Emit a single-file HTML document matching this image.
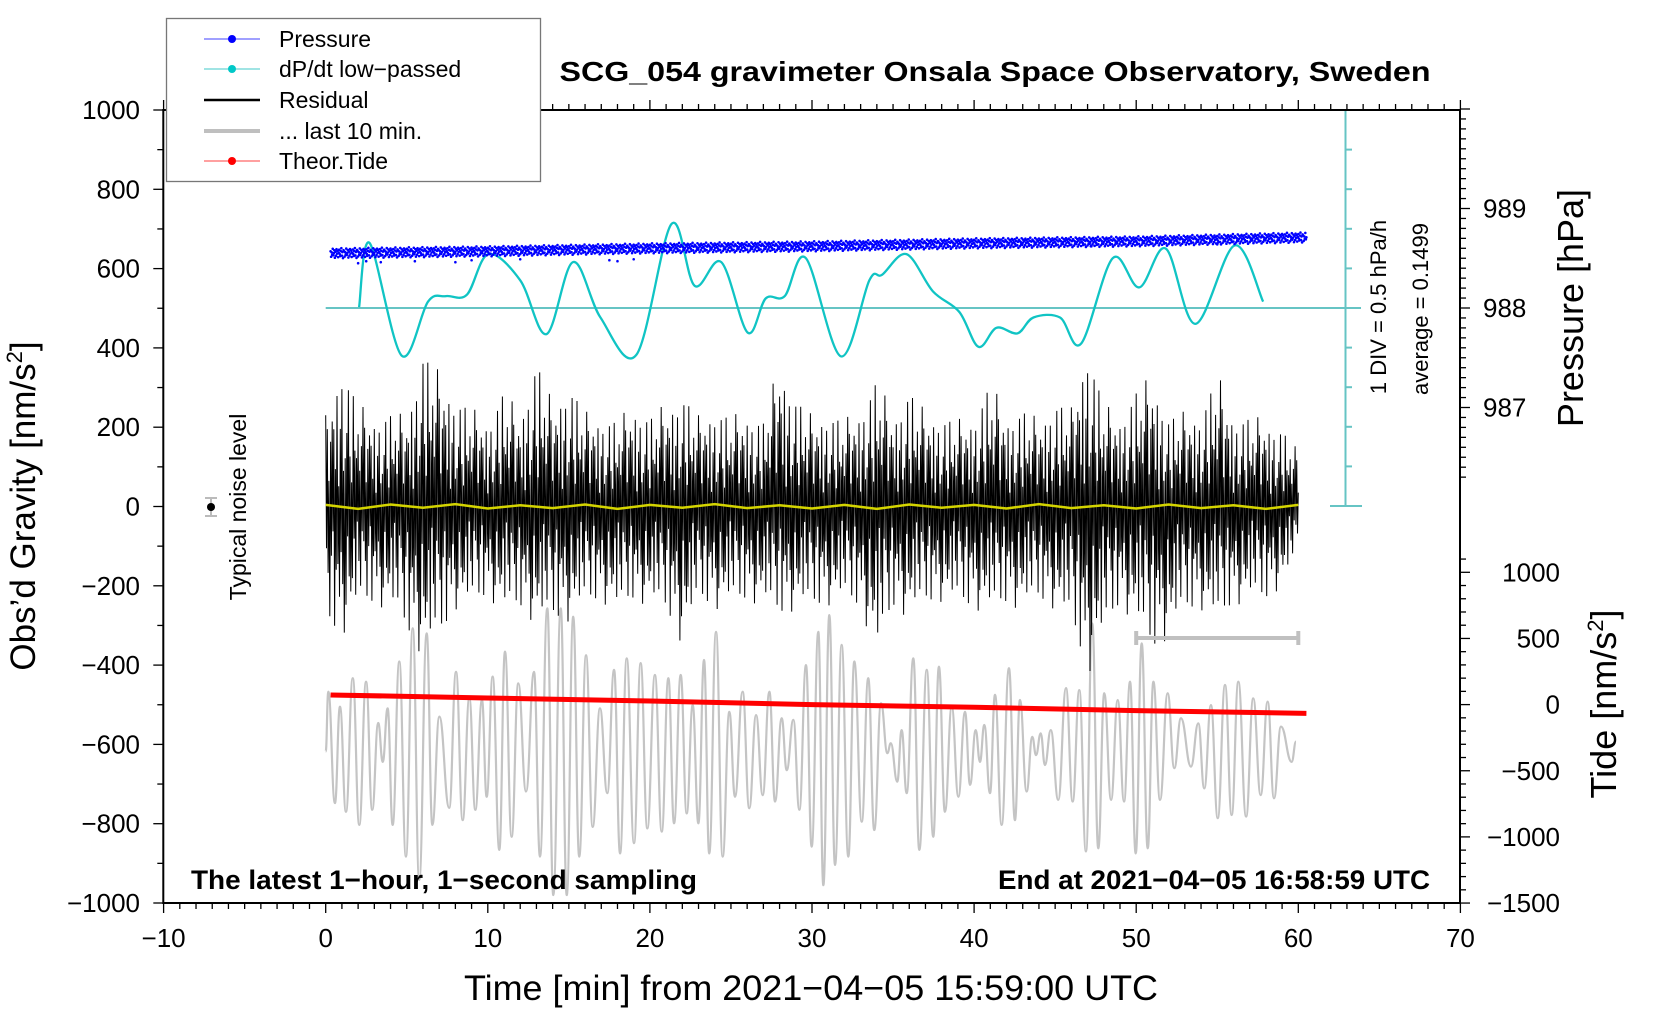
<!DOCTYPE html>
<html><head><meta charset="utf-8"><style>
html,body{margin:0;padding:0;background:#fff;}
svg{display:block;font-family:"Liberation Sans",Arial,sans-serif;}
</style></head><body>
<svg id="chart" width="1660" height="1020" viewBox="0 0 1660 1020" xmlns="http://www.w3.org/2000/svg">
<g id="marks"></g>
<g id="axes"></g>
<text x="995" y="81" text-anchor="middle" font-size="28" font-weight="bold" textLength="871" lengthAdjust="spacingAndGlyphs">SCG_054 gravimeter Onsala Space Observatory, Sweden</text>
<text x="191" y="889" font-size="27" font-weight="bold" textLength="506" lengthAdjust="spacingAndGlyphs">The latest 1−hour, 1−second sampling</text>
<text x="998" y="889" font-size="27" font-weight="bold" textLength="432" lengthAdjust="spacingAndGlyphs">End at 2021−04−05 16:58:59 UTC</text>
<text x="811" y="1000" text-anchor="middle" font-size="35" textLength="694" lengthAdjust="spacingAndGlyphs">Time [min] from 2021−04−05 15:59:00 UTC</text>
<text transform="translate(35,506) rotate(-90)" text-anchor="middle" font-size="35">Obs’d Gravity [nm/s<tspan font-size="22" dy="-13">2</tspan><tspan dy="13">]</tspan></text>
<text transform="translate(1583,308) rotate(-90)" text-anchor="middle" font-size="36">Pressure [hPa]</text>
<text transform="translate(1616,704) rotate(-90)" text-anchor="middle" font-size="36">Tide [nm/s<tspan font-size="22" dy="-13">2</tspan><tspan dy="13">]</tspan></text>
<text transform="translate(1386,307) rotate(-90)" text-anchor="middle" font-size="22">1 DIV = 0.5 hPa/h</text>
<text transform="translate(1428,309) rotate(-90)" text-anchor="middle" font-size="22">average = 0.1499</text>
<text transform="translate(246,507) rotate(-90)" text-anchor="middle" font-size="23">Typical noise level</text>
<g>
<rect x="166.5" y="18.5" width="374" height="163" fill="#fff" stroke="#777" stroke-width="1.3"/>
<g><line x1="204" y1="39" x2="260" y2="39" stroke="#4040ff" stroke-width="1"/><circle cx="232" cy="39" r="4" fill="#0000ff"/><text x="279" y="47" font-size="23">Pressure</text></g>
<g><line x1="204" y1="69" x2="260" y2="69" stroke="#40c8c8" stroke-width="1"/><circle cx="232" cy="69" r="4" fill="#00c8c8"/><text x="279" y="77" font-size="23">dP/dt low−passed</text></g>
<g><line x1="204" y1="100" x2="260" y2="100" stroke="#000" stroke-width="2.5"/><text x="279" y="108" font-size="23">Residual</text></g>
<g><line x1="204" y1="131" x2="260" y2="131" stroke="#bfbfbf" stroke-width="4"/><text x="279" y="139" font-size="23">... last 10 min.</text></g>
<g><line x1="204" y1="161" x2="260" y2="161" stroke="#ff4040" stroke-width="1"/><circle cx="232" cy="161" r="4" fill="#ff0000"/><text x="279" y="169" font-size="23">Theor.Tide</text></g>
</g>
</svg>
<script>
// ---- data ----
const grayTimes=[0,0.16,0.57,0.88,1.25,1.67,2.07,2.49,2.87,3.24,3.52,3.82,4.13,4.54,4.95,5.37,5.77,6.23,6.58,7.01,7.62,8.04,8.45,8.86,9.23,9.64,9.93,10.30,10.71,11.06,11.47,11.88,12.36,12.85,13.22,13.67,14.04,14.50,14.87,15.27,15.64,16.06,16.47,16.92,17.37,17.79,18.16,18.57,19.02,19.43,19.84,20.31,20.73,21.14,21.49,21.90,22.27,22.64,22.99,23.34,23.66,24.08,24.49,24.90,25.25,25.72,26.13,26.55,26.96,27.37,27.72,28.13,28.44,28.85,29.22,29.63,29.98,30.39,30.70,31.07,31.42,31.83,32.24,32.61,33.07,33.47,33.84,34.26,34.65,34.86,35.26,35.53,35.84,36.25,36.62,37.08,37.48,37.83,38.20,38.62,39.03,39.44,39.75,40.10,40.36,40.63,40.98,41.29,41.70,42.15,42.52,42.83,43.24,43.59,43.82,44.11,44.37,44.73,45.19,45.67,46.08,46.49,46.90,47.29,47.66,48.03,48.45,48.86,49.25,49.62,49.97,50.34,50.71,51.06,51.47,51.94,52.35,52.76,53.38,53.83,54.20,54.61,55.03,55.48,55.89,56.30,56.78,57.22,57.68,58.11,58.50,58.93,59.59,59.86];
const grayVals=[-618,-467,-748,-505,-770,-433,-803,-442,-765,-546,-644,-509,-803,-391,-883,-307,-942,-320,-803,-530,-760,-417,-791,-483,-765,-488,-732,-429,-866,-366,-833,-446,-719,-417,-883,-257,-980,-257,-980,-278,-883,-375,-808,-509,-723,-412,-875,-383,-849,-395,-812,-425,-820,-433,-799,-425,-774,-501,-799,-387,-875,-316,-883,-518,-732,-467,-761,-526,-728,-467,-744,-534,-665,-538,-765,-400,-858,-316,-955,-274,-904,-349,-883,-391,-795,-433,-816,-496,-622,-597,-694,-564,-723,-383,-866,-412,-833,-404,-770,-505,-732,-518,-702,-564,-644,-551,-723,-475,-803,-408,-791,-488,-719,-581,-627,-572,-652,-564,-740,-458,-744,-463,-870,-295,-862,-471,-740,-488,-744,-442,-875,-345,-862,-442,-740,-471,-660,-534,-656,-547,-711,-501,-786,-450,-778,-442,-782,-484,-728,-492,-736,-555,-644,-593];
const dpdtTimes=[2.06,2.71,4.68,6.31,7.42,8.72,10.03,12.0,13.62,15.26,16.95,19.17,21.33,22.76,24.4,26.03,27.14,28.32,29.62,31.78,33.54,34.33,35.83,37.46,39.09,40.27,41.38,42.68,43.66,45.3,46.6,48.56,50.19,51.83,53.65,56.07,57.83];
const dpdtVals=[0.01,0.82,-0.60,0.08,0.15,0.17,0.68,0.35,-0.33,0.58,-0.12,-0.59,1.06,0.28,0.58,-0.31,0.12,0.15,0.63,-0.61,0.35,0.42,0.68,0.21,-0.05,-0.49,-0.25,-0.32,-0.12,-0.12,-0.45,0.63,0.26,0.75,-0.20,0.79,0.08];
const tideTimes=[0.3,10,20,30,40,50,60.5];
const tideVals=[73,50,27,0,-20,-46,-66];
const pressureTimes=[0.3,10,20,30,40,50,60.5];
const pressureVals=[988.55,988.57,988.60,988.62,988.65,988.67,988.71];
const pressureNoise=[0.02,-0.035,0.01,-0.015,0.045,-0.02,0,0.03,-0.045,0.015,-0.025,0.04,-0.005,0.025,-0.04,0.005,0.035,-0.01,-0.03,0.02,0.05,-0.025,0.01,-0.05,0.03];
const pressureOutlierTimes=[2,2.5,3.4,5.5,8,9,12,17.5,18,19,47.2,55];
const pressureOutlierVals=[988.45,988.47,988.46,988.47,988.46,988.48,988.49,988.48,988.47,988.49,988.62,988.64];
const residualHi=[230,370,260,230,240,230,400,340,280,250,220,300,230,380,260,320,240,230,220,260,230,260,290,230,250,230,240,220,370,280,230,240,220,250,330,230,300,240,230,220,230,320,230,250,220,270,250,420,260,230,300,330,230,240,240,340,230,230,220,200,140];
const residualLo=[-300,-330,-250,-250,-260,-320,-380,-340,-260,-250,-230,-270,-260,-300,-290,-290,-250,-240,-270,-240,-250,-270,-350,-240,-260,-250,-240,-250,-280,-260,-260,-250,-240,-260,-380,-260,-280,-250,-240,-250,-260,-270,-250,-260,-240,-260,-300,-430,-330,-250,-300,-370,-330,-270,-260,-300,-250,-240,-240,-200,-120];
const residualShape=[1,0.35,0.8,0.55,0.25,0.9,0.6,0.4,0.75,0.2,0.65,0.95,0.3,0.5,0.85,0.45,0.15,0.7,0.55,0.35,0.8,0.6,0.25];
const yellowVals=[4,-6,5,-3,6,-5,3,-4,5,-6,4,-3,6,-4,3,-5,4,-6,5,-3,4,-5,6,-4,3,-5,5,-4,3,-6,4];
const xTicks=[-10,0,10,20,30,40,50,60,70];
const yTicks=[1000,800,600,400,200,0,-200,-400,-600,-800,-1000];
const pTicks=[989,988,987];
const tideTicks=[1000,500,0,-500,-1000,-1500];

// ---- scales ----
const X=t=>325.7+t*16.21;
const Y=v=>506.5-v*0.3965;
const YP=p=>308-(p-988)*99.5;
const YT=v=>704.6-v*0.1323;
const YR=r=>308-r/0.5*39.6;
const NS='http://www.w3.org/2000/svg';
const marks=document.getElementById('marks'), axes=document.getElementById('axes');
function mk(tag,attrs,parent){const e=document.createElementNS(NS,tag);for(const k in attrs)e.setAttribute(k,attrs[k]);(parent||marks).appendChild(e);return e;}
function interp(ts,vs,t){if(t<=ts[0])return vs[0];for(let i=1;i<ts.length;i++)if(t<=ts[i]){const f=(t-ts[i-1])/(ts[i]-ts[i-1]);return vs[i-1]+f*(vs[i]-vs[i-1]);}return vs[vs.length-1];}
const minutes=[...Array(61).keys()];

// gray last-10-min
let d='M'+X(grayTimes[0])+','+Y(grayVals[0]);
for(let i=1;i<grayTimes.length;i++){const x0=X(grayTimes[i-1]),x1=X(grayTimes[i]),dx=(x1-x0)*0.45;d+=` C${x0+dx},${Y(grayVals[i-1])} ${x1-dx},${Y(grayVals[i])} ${x1},${Y(grayVals[i])}`;}
const gp=mk('path',{d:d,fill:'none',stroke:'#c4c4c4','stroke-width':2.2});



// residual
let rd='';let k=0;
for(let t=0;t<=60.0001;t+=1/20){const hi=interp(minutes,residualHi,t),lo=interp(minutes,residualLo,t);const f=residualShape[k%residualShape.length];const v=(k%2===0?hi:lo)*f;rd+=(k?'L':'M')+X(t).toFixed(1)+','+Y(v).toFixed(1);k++;}
const rp=mk('path',{d:rd,fill:'none',stroke:'#000','stroke-width':1});



// yellow
let yd='';for(let i=0;i<yellowVals.length;i++){const t=i*60/(yellowVals.length-1);yd+=(i?'L':'M')+X(t)+','+Y(yellowVals[i]);}
const yp=mk('path',{d:yd,fill:'none',stroke:'#d4d400','stroke-width':2.5});



// tide
let td='';tideTimes.forEach((t,i)=>{td+=(i?'L':'M')+X(t)+','+YT(tideVals[i]);});
const tp=mk('path',{d:td,fill:'none',stroke:'#ff0000','stroke-width':5});



// range bar
const rb=mk('g',{stroke:'#c0c0c0','stroke-width':4});


mk('line',{x1:X(50),y1:638,x2:X(60),y2:638},rb);mk('line',{x1:X(50),y1:631,x2:X(50),y2:645},rb);mk('line',{x1:X(60),y1:631,x2:X(60),y2:645},rb);

// noise marker
const nm=mk('g',{});


mk('line',{x1:211,y1:498,x2:211,y2:516,stroke:'#bbb','stroke-width':2},nm);
mk('line',{x1:205,y1:498,x2:217,y2:498,stroke:'#bbb','stroke-width':2},nm);
mk('line',{x1:205,y1:516,x2:217,y2:516,stroke:'#bbb','stroke-width':2},nm);
mk('circle',{cx:211,cy:507,r:4,fill:'#000'},nm);

// cyan axis
const ca=mk('g',{stroke:'#66c4c4','stroke-width':2});


mk('line',{x1:1345.5,y1:110,x2:1345.5,y2:506},ca);
mk('line',{x1:1330,y1:110,x2:1361,y2:110},ca);
mk('line',{x1:1330,y1:506,x2:1362,y2:506},ca);
mk('line',{x1:X(0),y1:308,x2:1361,y2:308},ca);
for(let i=1;i<10;i++){mk('line',{x1:1345.5,y1:110+i*39.6,x2:1352,y2:110+i*39.6},ca);}

// cyan curve (Catmull-Rom)
const P=dpdtTimes.map((t,i)=>[X(t),YR(dpdtVals[i])]);
let cd='M'+P[0][0]+','+P[0][1];
for(let i=0;i<P.length-1;i++){const p0=P[Math.max(0,i-1)],p1=P[i],p2=P[i+1],p3=P[Math.min(P.length-1,i+2)];cd+=` C${p1[0]+(p2[0]-p0[0])/6},${p1[1]+(p2[1]-p0[1])/6} ${p2[0]-(p3[0]-p1[0])/6},${p2[1]-(p3[1]-p1[1])/6} ${p2[0]},${p2[1]}`;}
const cp=mk('path',{d:cd,fill:'none',stroke:'#10c4c4','stroke-width':2.3});



// pressure dots
const pg=mk('g',{fill:'#0000ff'});


let pd='';let j=0;const r=1.3;
for(let t=0.3;t<=60.5;t+=1/30){const p=interp(pressureTimes,pressureVals,t)+pressureNoise[j%pressureNoise.length];pd+=`M${X(t)-r},${YP(p)}a${r},${r} 0 1,0 ${2*r},0a${r},${r} 0 1,0 ${-2*r},0`;j++;}
pressureOutlierTimes.forEach((t,i)=>{pd+=`M${X(t)-r},${YP(pressureOutlierVals[i])}a${r},${r} 0 1,0 ${2*r},0a${r},${r} 0 1,0 ${-2*r},0`;});
mk('path',{d:pd},pg);

// frame + ticks
const ag=mk('g',{stroke:'#000','stroke-width':2,fill:'none'},axes);
mk('rect',{x:163.3,y:110,width:1296.7,height:793},ag);
for(let t=-10;t<=70;t++){const maj=t%10===0;mk('line',{x1:X(t),y1:903,x2:X(t),y2:903+(maj?10:6),'stroke-width':1.3},ag);mk('line',{x1:X(t),y1:110,x2:X(t),y2:110-(maj?10:6),'stroke-width':1.3},ag);}
for(let v=-1000;v<=1000;v+=100){mk('line',{x1:163.3,y1:Y(v),x2:163.3-(v%200===0?10:6),y2:Y(v),'stroke-width':1.3},ag);}
for(let p=986.3;p<=990.0001;p+=0.1){const maj=Math.abs(p-Math.round(p))<0.01;mk('line',{x1:1460,y1:YP(p),x2:1460+(maj?10:6),y2:YP(p),'stroke-width':1.3},ag);}
for(let v=-1500;v<=1100;v+=100){mk('line',{x1:1460,y1:YT(v),x2:1460+(v%500===0?10:6),y2:YT(v),'stroke-width':1.3},ag);}
const lg=mk('g',{'font-size':26,fill:'#000'},axes);
xTicks.forEach(t=>{const e=mk('text',{x:X(t),y:947,'text-anchor':'middle'},lg);e.textContent=String(t).replace('-','−');});
yTicks.forEach(v=>{const e=mk('text',{x:140,y:Y(v)+9,'text-anchor':'end'},lg);e.textContent=String(v).replace('-','−');});
pTicks.forEach(p=>{const e=mk('text',{x:1483,y:YP(p)+9},lg);e.textContent=String(p);});
tideTicks.forEach(v=>{const e=mk('text',{x:1560,y:YT(v)+9,'text-anchor':'end'},lg);e.textContent=String(v).replace('-','−');});
</script>
</body></html>
